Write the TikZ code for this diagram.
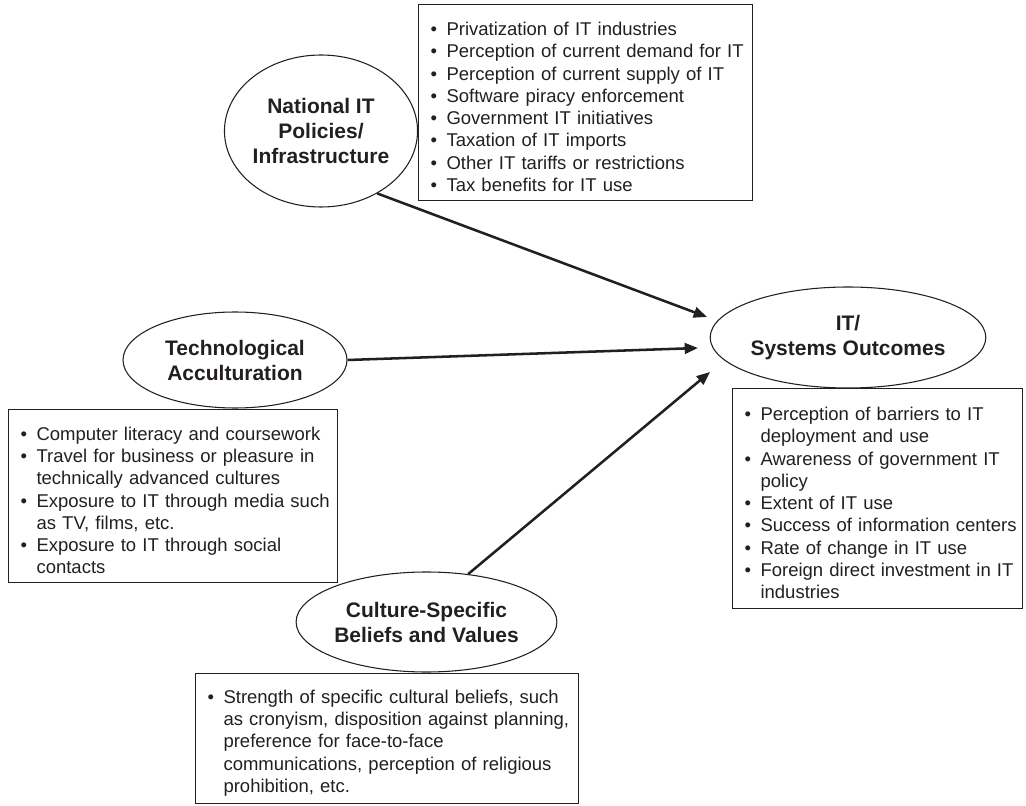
\documentclass[tikz,border=0pt]{standalone}
\usepackage{fontspec}
\setmainfont{Liberation Sans}
\usetikzlibrary{shapes.geometric,arrows.meta}
\definecolor{ink}{HTML}{231F20}
% one bulleted entry with a hanging indent; \nl breaks a line inside it
\newcommand\bitem[1]{\par\hangindent=21pt\hangafter=1\noindent\makebox[21pt][l]{\hspace{9pt}\textbullet}#1}
\newcommand\nl{\hfil\break}
\begin{document}
\begin{tikzpicture}[x=0.75pt,y=-0.75pt,
  construct/.style={ellipse, draw=ink, line width=0.8pt, inner sep=0pt, align=center, text=ink,
    font=\fontsize{15.75pt}{18.75pt}\selectfont\bfseries},
  listbox/.style={rectangle, draw=ink, line width=0.8pt, anchor=north west, inner xsep=0pt,
    inner ysep=0pt, text=ink, align=left, font=\fontsize{13.875pt}{16.7pt}\selectfont},
  link/.style={draw=ink, line width=1.9pt, -{Triangle[length=10pt,width=8pt]}}]

\useasboundingbox (0,0) rectangle (1026,806);

% constructs
\node[construct, minimum width=144pt, minimum height=114pt] (nat) at (321,131)
  {National IT\\Policies/\\Infrastructure};
\node[construct, minimum width=168pt, minimum height=72pt] (tech) at (235,360)
  {Technological\\Acculturation};
\node[construct, minimum width=190.5pt, minimum height=75.75pt] (it) at (848,337.5)
  {IT/\\Systems Outcomes};
\node[construct, minimum width=167.25pt, minimum height=75pt] (cul) at (426.5,622)
  {Culture-Specific\\Beliefs and Values};

% measures of each construct
\node[listbox, text width=250.5pt, minimum height=147pt] (natbox) at (418,4) {%
  \bitem{Privatization of IT industries}
  \bitem{Perception of current demand for IT}
  \bitem{Perception of current supply of IT}
  \bitem{Software piracy enforcement}
  \bitem{Government IT initiatives}
  \bitem{Taxation of IT imports}
  \bitem{Other IT tariffs or restrictions}
  \bitem{Tax benefits for IT use}\par};

\node[listbox, text width=246.75pt, minimum height=129.75pt] (techbox) at (8,409) {%
  \bitem{Computer literacy and coursework}
  \bitem{Travel for business or pleasure in\nl technically advanced cultures}
  \bitem{Exposure to IT through media such\nl as TV, films, etc.}
  \bitem{Exposure to IT through social\nl contacts}\par};

\node[listbox, text width=217.5pt, minimum height=165pt] (itbox) at (732,388) {%
  \bitem{Perception of barriers to IT\nl deployment and use}
  \bitem{Awareness of government IT\nl policy}
  \bitem{Extent of IT use}
  \bitem{Success of information centers}
  \bitem{Rate of change in IT use}
  \bitem{Foreign direct investment in IT\nl industries}\par};

\node[listbox, text width=287.25pt, minimum height=97.5pt] (culbox) at (195,673) {%
  \bitem{Strength of specific cultural beliefs, such\nl as cronyism, disposition against planning,\nl
    preference for face-to-face\nl communications, perception of religious\nl prohibition, etc.}\par};

% arrow ends in front of the outcome construct
\coordinate (t1) at (707,317);
\coordinate (t2) at (698,348);
\coordinate (t3) at (710,372);

\draw[link] (nat.-48) -- (t1);
\draw[link] (tech.east) -- (t2);
\draw[link] (cul.49) -- (t3);
\end{tikzpicture}
\end{document}
